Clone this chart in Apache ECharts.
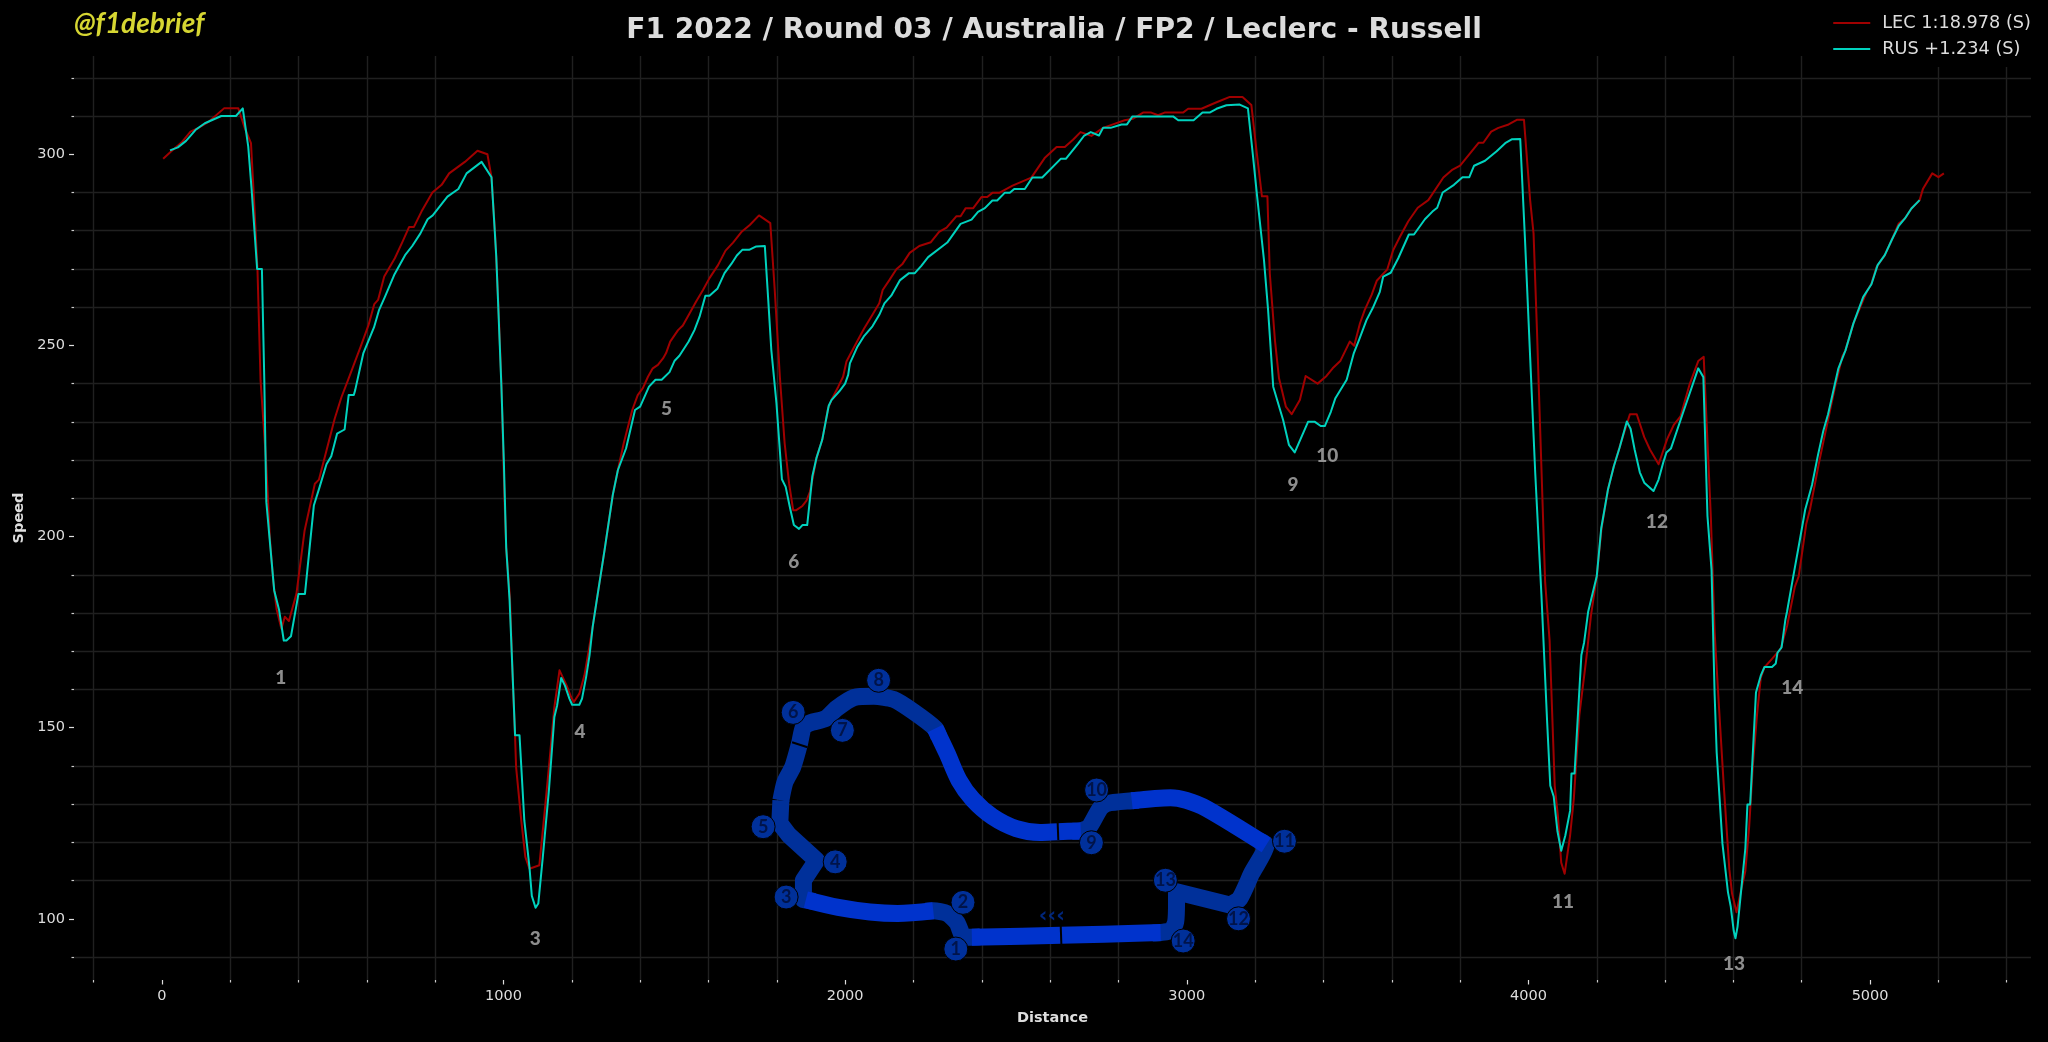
<!DOCTYPE html>
<html><head><meta charset="utf-8">
<style>html,body{margin:0;padding:0;background:#000;}#c{width:2048px;height:1042px;}</style>
<script src="https://cdn.jsdelivr.net/npm/echarts@6/dist/echarts.min.js"></script>
</head><body><div id="c"></div>
<script>
const title = 'F1 2022 / Round 03 / Australia / FP2 / Leclerc - Russell';
const watermark = '@f1debrief';
const lecName = 'LEC 1:18.978 (S)';
const rusName = 'RUS +1.234 (S)';
const xMajor = [0,1000,2000,3000,4000,5000];
const xMinor = [-200,200,400,600,800,1200,1400,1600,1800,2200,2400,2600,2800,3200,3400,3600,3800,4200,4400,4600,4800,5200,5400];
const yMajor = [100,150,200,250,300];
const yMinor = [90,110,120,130,140,160,170,180,190,210,220,230,240,260,270,280,290,310,320];

const lec = [[4,298.8],[27,300.7],[60,303.3],[84,305.9],[106,306.8],[139,308.6],[182,312],[224,312],[243,306.8],[261,302.9],[270,288],[280,270],[289,240.9],[305,220],[316,200],[326,188.5],[336,181],[350,175.9],[360,179],[372,177.9],[394,185],[418,201.6],[448,213.8],[460,214.9],[482,222.5],[506,230.8],[526,236.5],[545,240.9],[582,249.7],[605,255.3],[622,260.8],[633,261.9],[651,268],[682,272.8],[704,277],[724,281],[738,281],[760,285],[792,290],[819,292],[841,295],[887,298],[924,300.9],[953,300],[965,294],[975,280],[985,261],[994,240],[1003,210],[1008,197],[1019,184],[1027,163],[1034,147.6],[1037,139.7],[1052,125.8],[1064,116.2],[1076,113.1],[1105,114],[1120,127.5],[1135,141.5],[1149,155.4],[1164,165],[1185,161],[1198,158],[1206,156.7],[1222,158.9],[1237,163.7],[1252,171.5],[1261,176.3],[1273,183.3],[1296,196.5],[1320,210.9],[1335,217.4],[1352,224.4],[1377,233.1],[1393,237],[1408,238.8],[1423,241.8],[1437,244],[1452,244.9],[1467,246.6],[1476,248],[1488,251],[1511,254],[1525,255.2],[1545,258.4],[1564,261.5],[1584,264.5],[1603,267.6],[1628,271],[1650,274.8],[1672,276.9],[1698,279.8],[1721,281.5],[1748,284],[1781,282],[1794,264.5],[1809,241.8],[1823,224.4],[1836,213.9],[1848,206.9],[1857,206.9],[1875,208],[1887,209.4],[1897,211.7],[1906,215.7],[1916,220.5],[1933,225.3],[1950,233.5],[1960,235.7],[1980,239.2],[1994,241.8],[2004,245.8],[2014,247.5],[2035,251],[2056,254.5],[2080,258],[2100,261],[2110,264.5],[2129,267],[2150,269.9],[2167,271.2],[2189,274.2],[2217,276],[2251,277],[2275,279.7],[2297,280.8],[2326,283.8],[2338,283.8],[2353,285.9],[2375,285.9],[2399,288.8],[2416,288.8],[2431,289.9],[2451,289.9],[2490,291.8],[2545,293.9],[2584,299],[2619,301.9],[2643,301.9],[2667,303.8],[2689,305.8],[2721,304.8],[2755,306.9],[2784,307.8],[2818,308.9],[2843,309.3],[2872,310.9],[2896,310.9],[2916,310.2],[2935,310.9],[2989,310.9],[3004,311.9],[3043,311.9],[3082,313.4],[3126,315],[3163,315],[3189,312.9],[3204,301],[3220,289],[3236,289],[3243,268.8],[3258,251.4],[3270,241.4],[3290,234],[3307,232],[3331,235.7],[3348,242],[3383,240],[3409,242],[3427,244],[3450,246],[3477,251],[3490,249.9],[3507,255.8],[3521,259.3],[3541,263.2],[3556,266.9],[3587,269.9],[3604,274.9],[3624,278.4],[3648,282.4],[3676,286],[3707,288],[3751,293.9],[3778,296],[3800,297],[3854,303],[3868,303],[3891,305.9],[3912,306.9],[3942,307.8],[3966,309],[3987,309],[4005,288],[4015,279.3],[4025,254],[4030,240],[4049,188],[4062,172.8],[4077,134.8],[4086,127.2],[4096,114.7],[4106,111.8],[4122,121.8],[4133,131.6],[4149,153.3],[4170,168.5],[4183,179.3],[4200,189.6],[4214,202.1],[4233,212.4],[4250,218.4],[4272,224.9],[4297,232],[4317,232],[4339,226],[4356,222.7],[4381,218.9],[4406,225.5],[4426,229.3],[4445,231.4],[4471,239.6],[4497,245.9],[4513,247],[4523,227],[4534,205],[4545,175],[4557,156.5],[4571,135.9],[4588,113],[4596,106.6],[4609,101.7],[4623,107.7],[4635,112.6],[4646,124],[4657,140.2],[4669,153.3],[4680,163],[4691,165.8],[4713,168],[4738,170.6],[4757,176.6],[4780,186.9],[4791,189.6],[4813,203.2],[4824,207],[4852,220],[4874,229.3],[4897,239],[4919,247.2],[4928,248.7],[4951,255.7],[4990,264],[5004,266.2],[5019,270.5],[5043,273.6],[5063,277.5],[5084,281.9],[5102,283.2],[5121,285.8],[5145,288],[5155,291],[5182,295],[5200,294],[5216,295]];

const rus = [[24,301],[47,301.8],[71,303.5],[99,306.4],[126,308.1],[174,310],[217,310],[237,312],[253,302],[263,290.7],[279,270],[293,270],[300,240.9],[304,219],[306,209],[329,185.9],[343.5,180.7],[357,172.8],[365,172.8],[378,173.9],[400,185],[419,185],[445,208.1],[462,213],[482,218.9],[496,221],[513,226.9],[535,228],[547,237],[562,237],[566,238.3],[590,248],[621,254.7],[636,259.3],[653,262.7],[680,268.4],[712,273.6],[733,276],[757,279.3],[778,283],[793,284],[836,288.9],[868,290.9],[892,295],[936,298],[965,294],[979,273.2],[994,239.2],[1001,220],[1008,197.2],[1018,183.3],[1034,148],[1047,148],[1061,125.8],[1076,113.6],[1083,106],[1094,102.9],[1102,104],[1115,116],[1133,133.6],[1149,152.8],[1157,155.8],[1169,163],[1180,161],[1193,157.6],[1201,156],[1222,156],[1230,157.6],[1242,163.3],[1252,169],[1261,176.3],[1273,183.3],[1296,196.5],[1320,210.9],[1335,217.4],[1359,223.1],[1385,233.1],[1400,234],[1426,239.2],[1445,241],[1463,241],[1486,243],[1501,246],[1515,247.3],[1542,251],[1559,254],[1574,257.5],[1591,263],[1603,263],[1626,264.8],[1647,268.9],[1667,271.3],[1683,273.5],[1699,275],[1719,275],[1740,275.9],[1765,276],[1775,261.9],[1784,248.8],[1799,234.9],[1815,215],[1826,213],[1838,207.8],[1850,203],[1865,202],[1875,203],[1889,203],[1904,215.7],[1916,220.5],[1933,225.3],[1952,234.2],[1960,235.7],[1983,238],[2000,240],[2009,242.3],[2014,245.3],[2035,249.5],[2056,252.5],[2080,255],[2100,258],[2115,261],[2135,263],[2160,267],[2187,268.9],[2204,268.9],[2223,270.8],[2243,273.1],[2299,276.9],[2338,281.8],[2370,282.9],[2389,284.9],[2409,285.9],[2431,287.9],[2445,287.9],[2467,289.9],[2482,289.9],[2495,290.9],[2526,290.9],[2548,293.9],[2577,293.9],[2631,298.8],[2646,298.8],[2682,302.8],[2700,304.9],[2719,305.8],[2743,304.9],[2755,306.9],[2777,306.9],[2809,307.8],[2825,307.8],[2841,309.9],[2960,309.9],[2975,308.9],[3020,308.9],[3046,310.9],[3067,310.9],[3087,311.9],[3116,312.8],[3155,313],[3179,312],[3194,299.4],[3206,288.9],[3226,272.3],[3238,259.3],[3253,239.2],[3282,230.5],[3299,224],[3316,222],[3355,230],[3375,230],[3392,228.9],[3404,228.9],[3422,232.7],[3435,236.2],[3468,241],[3489,248],[3504,251.4],[3526,256.6],[3544,259.7],[3565,264],[3575,268],[3597,269],[3619,272.8],[3650,279],[3665,279],[3697,283],[3719,285],[3733,286],[3749,290],[3782,292],[3807,294],[3827,294],[3841,297],[3873,298.3],[3907,300.8],[3932,302.9],[3951,303.9],[3976,304],[3990,277.6],[4005,247],[4020,216.5],[4038,184.8],[4055,151.1],[4064,134.8],[4074,132],[4085,122.9],[4096,117.8],[4108,121.8],[4122,128.3],[4126,138],[4135,138],[4155,169],[4163,172.3],[4175,180.4],[4200,189.6],[4213,202.1],[4233,212.4],[4250,218.4],[4267,223.3],[4288,230.1],[4299,228.2],[4311,222.7],[4326,216.8],[4339,214.1],[4366,211.9],[4381,214.9],[4395,219.5],[4404,222],[4417,223],[4451,232],[4497,244],[4512,241.7],[4524,205.4],[4536,191.3],[4545,158.7],[4551,143.5],[4568,119.6],[4584,107],[4592,103.3],[4601,96.8],[4606,94.9],[4612,97.9],[4635,118.5],[4641,129.9],[4649,129.9],[4666,159.2],[4680,163.6],[4691,165.9],[4713,165.9],[4724,166.8],[4729,169.6],[4741,171],[4752,178.2],[4757,180.4],[4774,189],[4794,198.9],[4810,207],[4830,213.5],[4847,221.1],[4863,227.6],[4877,232],[4907,243.9],[4928,248.7],[4951,255.7],[4980,262.7],[5004,266],[5022,271],[5043,273.6],[5063,277.5],[5084,281.3],[5102,283.2],[5121,285.8],[5145,288]];

const turnLabels = [[1,348,163],[3,1093,94.7],[4,1224,149],[5,1477,233.3],[6,1850,193.4],[9,3311,213.5],[10,3411,221.1],[11,4101,104.4],[12,4376,203.8],[13,4602,88.3],[14,4772,160.4]];

const trackFast = [
 [[2371,95.2],[2631,95.7],[2923.5,96.4]],
 [[3232.5,119.3],[3056.6,128.9],[2998.7,131],[2952.4,131.7],[2839,130.9]],
 [[2689.7,123],[2622.5,122.8],[2570.5,122.6],[2501,123.6],[2431.6,126.7],[2373.7,131.2],[2333,136.3],[2298.4,143.3],[2263.7,149.8]],
 [[1885,105],[1980,103],[2072.7,101.8],[2153.8,101.4],[2258,102.1]]
];
const trackSlow = [
 [[2900,96.3],[2923.5,96.4],[2955,97],[2967.5,99.2],[2970,104.4],[2970,107.1]],
 [[3126,103.6],[3155,105.3],[3190,111.9],[3232.5,119.3],[3210,120.5]],
 [[2860,131],[2839,130.9],[2767,130.2],[2746.4,128.9],[2715,124.1],[2689.7,123],[2665,122.9]],
 [[2275,147.5],[2263.7,149.8],[2200,154.2],[2142,157.4],[2084.3,158.2],[2026.4,157.9],[1974.3,155],[1943,152.4],[1899,151.3],[1878,150.2],[1866.7,145.9],[1847,139.8],[1824,135.8],[1812,131]],
 [[2235,102],[2258,102.1],[2298.4,101.4],[2327.4,99],[2348,95.2],[2371,95.2],[2395,95.3]]
];
const trackCorners = [
 [[1812,131],[1808.8,125],[1835.4,121.9],[1916.5,115.3],[1878,110.1],[1878,105],[1885,105],[1910,104.5]],
 [[2970,104.4],[2970,107.1],[3126,103.6],[3135,104]]
];
const trackBreaks = [
 [[2631,98.3],[2633,93.3]],
 [[2622,125.3],[2624,120.6]],
 [[1844.7,146.2],[1889.8,144.9]]
];
const turnMarkers = [[1,2324,92.1],[2,2345,104.3],[3,1827.3,105.7],[4,1971,114.9],[5,1760,124.1],[6,1848,154],[7,1992,149.3],[8,2098,162.4],[9,2721,119.9],[10,2736,133.7],[11,3286,120.3],[12,3151.5,100],[13,2937.4,110.1],[14,2989.5,94.2]];
const directionMark = [[2605,100.7]];

const bright='#0033cc', dim='#00309a';
const series=[];
trackSlow.forEach(p=>series.push({type:'line',data:p,symbol:'none',silent:true,z:2,smooth:0.22,lineStyle:{color:dim,width:17,cap:'butt',join:'round'}}));
trackCorners.forEach(p=>series.push({type:'line',data:p,symbol:'none',silent:true,z:2,lineStyle:{color:dim,width:17,cap:'butt',join:'round'}}));
trackFast.forEach(p=>series.push({type:'line',data:p,symbol:'none',silent:true,z:3,smooth:0.3,lineStyle:{color:bright,width:17,cap:'butt',join:'round'}}));
trackBreaks.forEach(p=>series.push({type:'line',data:p,symbol:'none',silent:true,z:4,lineStyle:{color:'#000',width:2,cap:'butt'}}));
series.push({type:'scatter',data:directionMark,symbolSize:0,silent:true,z:4,
  label:{show:true,position:'inside',formatter:'‹‹‹',color:dim,fontFamily:'DejaVu Sans',fontWeight:'bold',fontSize:21}});
series.push({type:'scatter',data:turnMarkers.map(t=>[t[1],t[2],t[0]]),symbol:'circle',symbolSize:24,silent:true,z:5,
  itemStyle:{color:dim,borderColor:'#000',borderWidth:1,opacity:1},
  label:{show:true,position:'inside',formatter:p=>String(p.value[2]),color:'#00144a',fontFamily:'Lato',fontWeight:'bold',fontSize:18}});
series.push({type:'scatter',data:turnLabels.map(t=>[t[1],t[2],t[0]]),symbolSize:0,silent:true,z:5,
  label:{show:true,position:'inside',formatter:p=>String(p.value[2]),color:'#b0b0b0',fontFamily:'Lato',fontWeight:900,fontSize:19}});
series.push({name:lecName,type:'line',data:lec,symbol:'none',z:6,lineStyle:{color:'#a00000',width:2,join:'round'},itemStyle:{color:'#a00000'}});
series.push({name:rusName,type:'line',data:rus,symbol:'none',z:7,lineStyle:{color:'#00d2be',width:2,join:'round'},itemStyle:{color:'#00d2be'}});

const gridLine={show:true,lineStyle:{color:'#202020',width:1.4}};
const axisFont={color:'#dddddd',fontFamily:'DejaVu Sans',fontSize:14.5};
const noLine={show:false,onZero:false};
const xBase={type:'value',min:-257,max:5471,axisLine:noLine,splitLine:{show:false},minorSplitLine:{show:false}};
const yBase={type:'value',min:84,max:325.7,axisLine:noLine,splitLine:{show:false},minorSplitLine:{show:false}};

const chart=echarts.init(document.getElementById('c'),null,{renderer:'canvas'});
chart.setOption({
  backgroundColor:'#000',animation:false,
  title:[
    {text:title,left:1049,top:12,textAlign:'center',textStyle:{color:'#dcdcdc',fontFamily:'DejaVu Sans',fontWeight:'bold',fontSize:28.1}},
    {text:watermark,left:69,top:5,textStyle:{color:'#d6d632',fontFamily:'Lato',fontStyle:'italic',fontWeight:'bold',fontSize:28}}
  ],
  legend:{data:[lecName,rusName],orient:'vertical',right:7,top:6,padding:[7,10,8,10],itemWidth:37,itemHeight:2,itemGap:6,backgroundColor:'#000',z:10,
    textStyle:{color:'#dddddd',fontFamily:'DejaVu Sans',fontSize:17.7,lineHeight:20,padding:[0,0,0,7]}},
  grid:{left:74,right:17,top:56,bottom:62,containLabel:false},
  xAxis:[
    Object.assign({},xBase,{position:'bottom',name:'Distance',nameLocation:'middle',nameGap:31,
      nameTextStyle:{color:'#dddddd',fontFamily:'DejaVu Sans',fontWeight:'bold',fontSize:14.5},
      axisTick:{show:true,length:4.5,lineStyle:{color:'#dddddd',width:1.2},customValues:xMajor},
      axisLabel:Object.assign({show:true,margin:9,customValues:xMajor,formatter:v=>String(v)},axisFont)}),
    Object.assign({},xBase,{position:'bottom',
      axisTick:{show:true,length:2.5,lineStyle:{color:'#cccccc',width:1.2},customValues:xMinor},
      axisLabel:{show:false},
      splitLine:Object.assign({},gridLine,{customValues:xMajor.concat(xMinor)})})
  ],
  yAxis:[
    Object.assign({},yBase,{position:'left',name:'Speed',nameLocation:'middle',nameGap:38,
      nameTextStyle:{color:'#dddddd',fontFamily:'DejaVu Sans',fontWeight:'bold',fontSize:14.5},
      axisTick:{show:true,length:5,lineStyle:{color:'#dddddd',width:1.2},customValues:yMajor},
      axisLabel:Object.assign({show:true,margin:9,customValues:yMajor},axisFont)}),
    Object.assign({},yBase,{position:'left',
      axisTick:{show:true,length:2.5,lineStyle:{color:'#cccccc',width:1.2},customValues:yMinor},
      axisLabel:{show:false},
      splitLine:Object.assign({},gridLine,{customValues:yMajor.concat(yMinor)})})
  ],
  series:series
});
</script></body></html>
